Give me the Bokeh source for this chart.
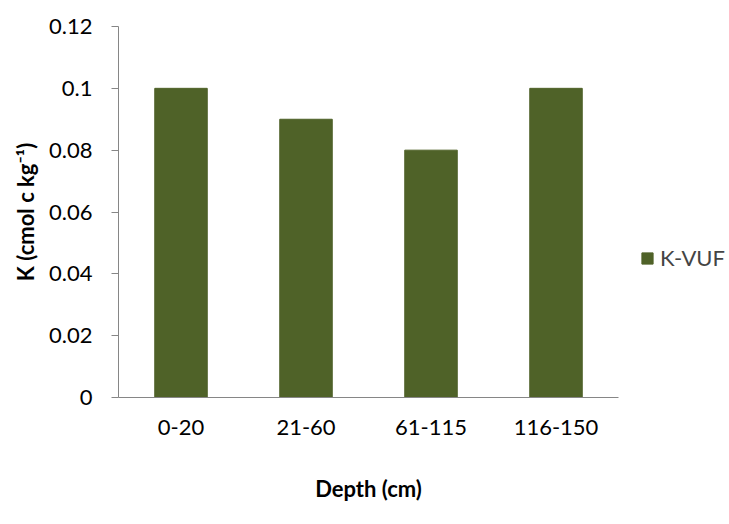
from bokeh.plotting import figure
from bokeh.models import (ColumnDataSource, FactorRange, Range1d, FixedTicker,
                          CustomJSTickFormatter, Legend, LegendItem)
from bokeh.embed import file_html
from bokeh.resources import INLINE

depths = ["0-20", "21-60", "61-115", "116-150"]
k_vuf = [0.10, 0.09, 0.08, 0.10]
y_ticks = [0, 0.02, 0.04, 0.06, 0.08, 0.10, 0.12]

FONT = "Lato"
BAR = "#4F6228"
AX = "#868686"

src = ColumnDataSource(dict(depth=depths, k=k_vuf))

p = figure(x_range=FactorRange(*depths, range_padding=0),
           y_range=Range1d(0, 0.12),
           frame_width=500, frame_height=371,
           output_backend="svg", toolbar_location=None,
           min_border_left=118, min_border_right=105, min_border_top=26,
           min_border_bottom=118)
p.outline_line_color = None
p.grid.grid_line_color = None

r = p.vbar(x="depth", top="k", width=0.42, source=src, fill_color=BAR,
           line_color=BAR)

p.yaxis.ticker = FixedTicker(ticks=y_ticks)
p.yaxis.formatter = CustomJSTickFormatter(
    code="return tick.toFixed(2).replace(/0+$/,'').replace(/\\.$/,'');")
for ax in (p.xaxis[0], p.yaxis[0]):
    ax.axis_line_color = AX
    ax.major_label_text_font = FONT
    ax.major_label_text_font_size = "22px"
    ax.major_label_text_color = "#000000"
    ax.axis_label_text_font = FONT
    ax.axis_label_text_font_size = "22px"
    ax.axis_label_text_font_style = "bold"
    ax.axis_label_text_color = "#000000"
    ax.minor_tick_line_color = None

p.yaxis.major_tick_line_color = AX
p.yaxis.major_tick_in = 0
p.yaxis.major_tick_out = 7
p.yaxis.major_label_standoff = 19
p.yaxis.axis_label = "K (cmol c kg\u207b\u00b9)"
p.yaxis.axis_label_standoff = 7

p.xaxis.major_tick_line_color = None
p.xaxis.major_label_standoff = 16
p.xaxis.axis_label = "Depth (cm)"
p.xaxis.axis_label_standoff = 37

legend = Legend(items=[LegendItem(label="K-VUF", renderers=[r])],
                location=(22, 126), border_line_color=None,
                background_fill_alpha=0, label_text_font=FONT,
                label_text_font_size="22px", glyph_width=14, glyph_height=14,
                padding=0, margin=0, label_standoff=6)
p.add_layout(legend, "right")

open("out.html", "w").write(file_html(p, INLINE))
